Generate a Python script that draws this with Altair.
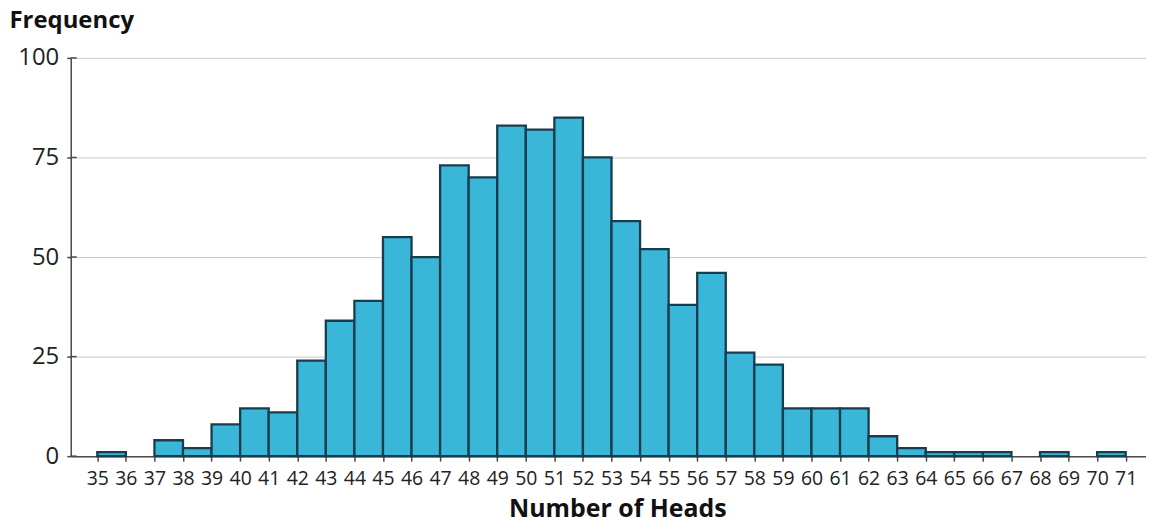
import altair as alt
import pandas as pd

# Data
bin_start = list(range(35, 71))
counts = [1, 0, 4, 2, 8, 12, 11, 24, 34, 39, 55, 50, 73, 70, 83, 82, 85, 75,
          59, 52, 38, 46, 26, 23, 12, 12, 12, 5, 2, 1, 1, 1, 0, 1, 0, 1]
x_ticks = list(range(35, 72))
y_ticks = [0, 25, 50, 75, 100]

df = pd.DataFrame({"start": bin_start, "end": [b + 1 for b in bin_start],
                   "count": counts, "base": [0] * len(bin_start)})
df_ticks = pd.DataFrame({"count": y_ticks})

FONT = "Open Sans"
x_scale = alt.Scale(domain=[34.07, 71.71], nice=False, zero=False)
y_scale = alt.Scale(domain=[0, 100], nice=False)

y_axis = alt.Axis(values=y_ticks, grid=True, gridColor="#C8C8C8",
                  gridWidth=1, title="Frequency", titleAngle=0,
                  titleAlign="left", titleBaseline="alphabetic",
                  titleX=-62, titleY=-31, titleFontSize=24,
                  titleFontWeight="bold", titleFont=FONT, titleColor="#111",
                  labelFontSize=24, labelFont=FONT, labelColor="#222",
                  labelPadding=8, tickSize=4)

bars = alt.Chart(df).transform_filter(alt.datum["count"] > 0).mark_bar(
    fill="#3AB7D8", stroke="#1A3C4D", strokeWidth=2.3
).encode(
    x=alt.X("start:Q", scale=x_scale,
            axis=alt.Axis(values=x_ticks, format="d", grid=False,
                          title="Number of Heads", titleX=549, titleY=61,
                          titleBaseline="alphabetic", titleFontSize=25,
                          titleFontWeight="bold", titleFont=FONT, titleColor="#111",
                          labelFontSize=19.5, labelFont=FONT, labelColor="#222",
                          labelPadding=8, tickSize=5, labelOverlap=False,
                          labelFlush=False)),
    x2="end:Q",
    y=alt.Y("count:Q", scale=y_scale, axis=y_axis),
    y2="base:Q",
)

inner_ticks = alt.Chart(df_ticks).mark_rule(color="#4A4A4A", strokeWidth=1.5).encode(
    y=alt.Y("count:Q", scale=y_scale, axis=y_axis),
    x=alt.value(0),
    x2=alt.value(6),
)

chart = alt.layer(bars, inner_ticks).properties(
    width=1080,
    height=400,
    autosize=alt.AutoSizeParams(type="none"),
    padding={"left": 63, "top": 49, "right": 0, "bottom": 66},
).configure_view(stroke=None).configure_axis(
    domainColor="#4A4A4A", domainWidth=1.5, tickColor="#4A4A4A", tickWidth=1.5
)

chart.save("out.html", embed_options={"renderer": "svg", "actions": False})
